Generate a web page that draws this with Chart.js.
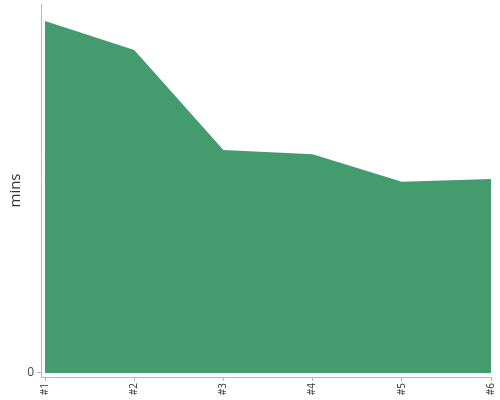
<!DOCTYPE html>
<html>
<head>
<meta charset="utf-8">
<script src="https://cdn.jsdelivr.net/npm/chart.js@4"></script>
<style>
  body { margin: 0; background: #fff; }
  #wrap { width: 500px; height: 400px; }
</style>
</head>
<body>
<div id="wrap"><canvas id="grafica"></canvas></div>
<script>
const etiquetas = ["#1", "#2", "#3", "#4", "#5", "#6"];
const posiciones = [1, 2, 3, 4, 5, 6];
const minutos = [95.4, 87.5, 60.4, 59.3, 51.8, 52.6];
const ticksY = [0];

const gris = "#b8b8b8";

new Chart(document.querySelector("#grafica"), {
  type: "line",
  data: {
    datasets: [{
      label: "mins",
      data: posiciones.map((x, i) => ({ x: x, y: minutos[i] })),
      fill: "origin",
      backgroundColor: "#449c6e",
      borderColor: "#449c6e",
      borderWidth: 0,
      pointRadius: 0,
      tension: 0
    }]
  },
  options: {
    responsive: true,
    maintainAspectRatio: false,
    animation: false,
    layout: { padding: { top: 4, right: 9, left: 0, bottom: 0 } },
    plugins: { legend: { display: false }, tooltip: { enabled: false } },
    scales: {
      x: {
        type: "linear",
        min: 0.955,
        max: 6,
        afterBuildTicks: s => { s.ticks = posiciones.map(v => ({ value: v })); },
        afterFit: s => {
          s.height = 23;
          s.paddingLeft = 0; s.paddingRight = 0;
        },
        ticks: {
          minRotation: 90,
          maxRotation: 90,
          autoSkip: false,
          color: "#333",
          font: { family: "Open Sans", size: 10 },
          padding: 2,
          callback: v => etiquetas[posiciones.indexOf(v)]
        },
        grid: { drawOnChartArea: false, drawTicks: true, tickLength: 4, color: gris },
        border: { color: gris }
      },
      y: {
        min: -1.1,
        max: 100,
        afterBuildTicks: s => { s.ticks = ticksY.map(v => ({ value: v })); },
        afterFit: s => {
          s.width = 41;
          s.paddingTop = 0; s.paddingBottom = 0;
        },
        ticks: {
          color: "#444",
          font: { family: "Open Sans", size: 12 },
          padding: 3
        },
        grid: { drawOnChartArea: false, drawTicks: true, tickLength: 4, color: gris },
        border: { color: gris },
        title: {
          display: true,
          text: "mins",
          color: "#333",
          font: { family: "Open Sans", size: 15 },
          padding: { top: 7, bottom: 2 }
        }
      }
    }
  }
});
</script>
</body>
</html>
